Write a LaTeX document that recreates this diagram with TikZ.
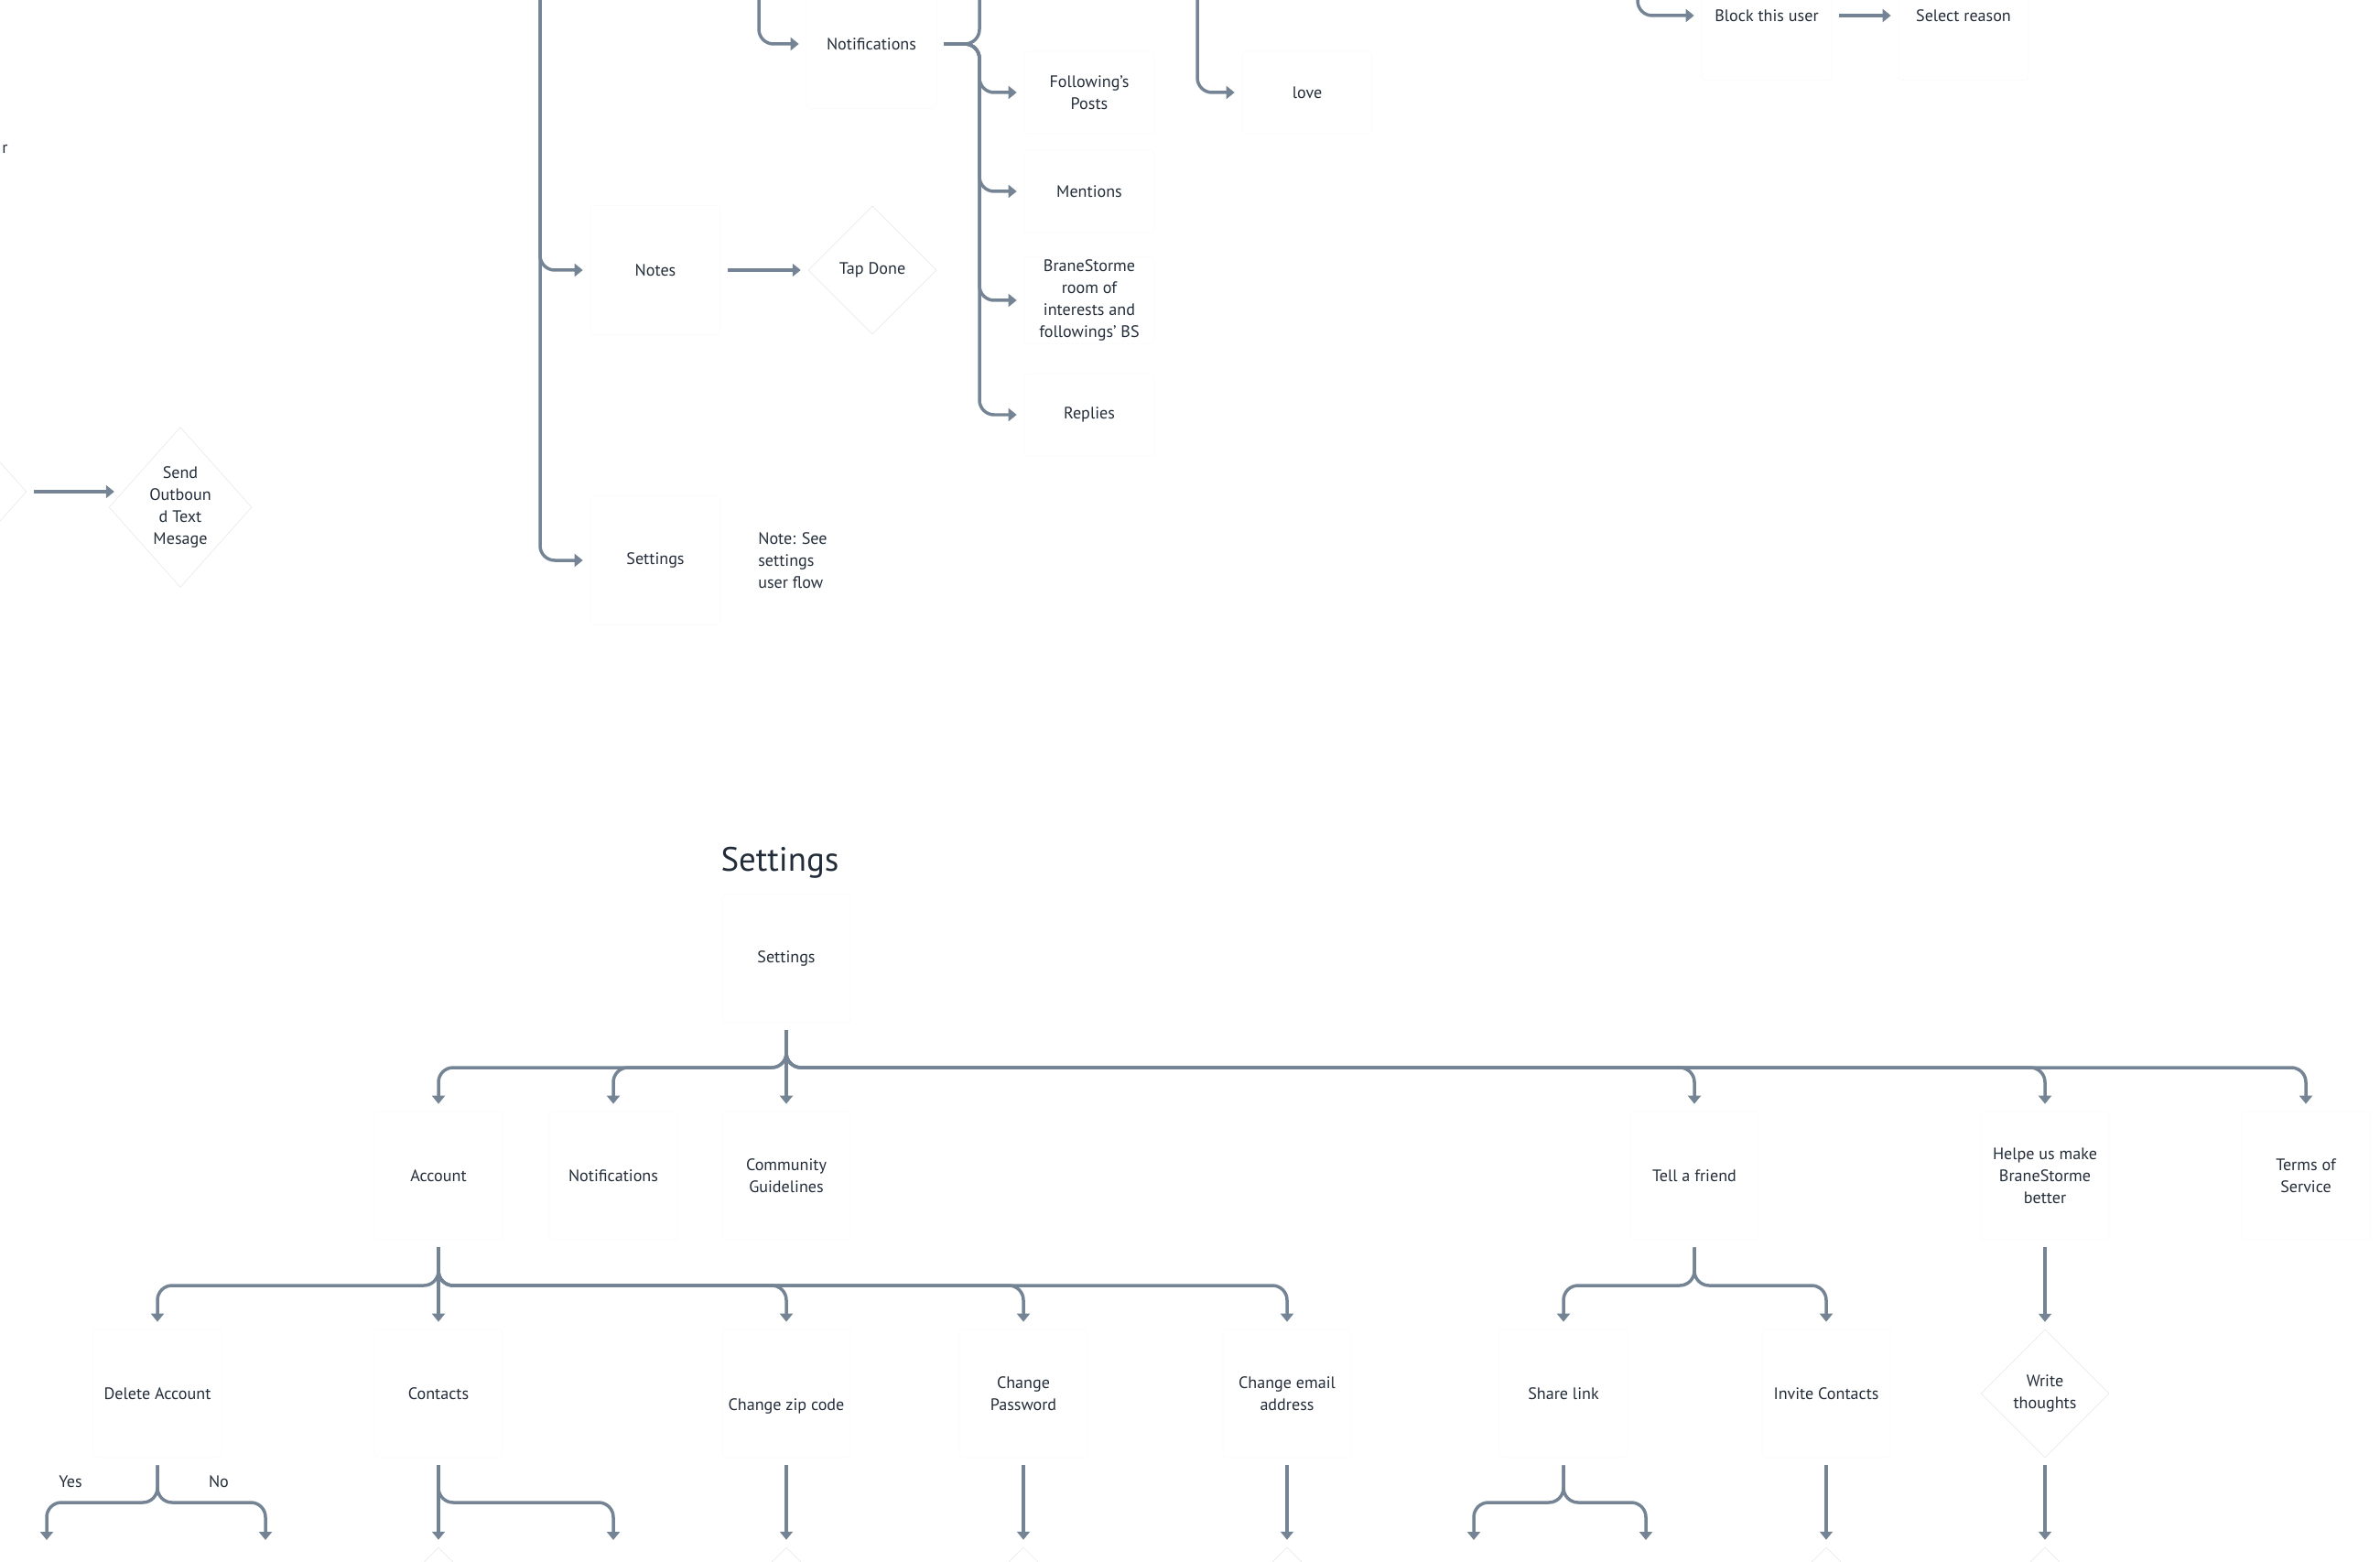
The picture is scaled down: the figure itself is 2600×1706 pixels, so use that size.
\documentclass[tikz,border=0pt]{standalone}
\usepackage{fontspec}
\setmainfont{PT Sans}
\usetikzlibrary{arrows.meta,positioning,shapes.geometric,calc}
\definecolor{slate}{RGB}{116,132,148}
\definecolor{ink}{RGB}{35,45,58}
\newcommand{\flowfont}{\fontsize{10.3}{13.6}\selectfont}

\tikzset{
  link/.style={draw=slate,line width=0.07cm,rounded corners=0.32cm,shorten <=0.16cm},
  flow/.style={link,-{Triangle[length=0.18cm,width=0.28cm]},shorten >=0.16cm},
  stepbox/.style={draw=black!2,rounded corners=2pt,minimum width=2.84cm,minimum height=2.82cm,
    align=center,font=\flowfont,text=ink,inner sep=2pt},
  subbox/.style={stepbox,minimum height=1.8cm},
  choice/.style={diamond,draw=black!10,line width=0.3pt,minimum width=2.8cm,minimum height=2.8cm,
    inner sep=0pt,align=center,font=\flowfont,text=ink},
  plain/.style={font=\flowfont,text=ink,align=center}
}

\begin{document}
\begin{tikzpicture}[x=0.02cm,y=-0.02cm]
\useasboundingbox (0,0) rectangle (2600,1706);
\clip (0,0) rectangle (2600,1706);

\node[plain,anchor=east,inner sep=0pt] (cutlabel) at (9,163) {r};
\node[choice,minimum height=3.1cm] (prevstep) at (-41,537) {};
\node[choice,minimum height=3.5cm] (sendtext) at (197,554) {Send\\Outboun\\d Text\\Mesage};
\draw[flow,shorten >=-0.12cm] (prevstep.east) -- (prevstep.east -| sendtext.west);

\coordinate (trunktop) at (590,-20);
\node[stepbox] (notes) at (716,295) {Notes};
\node[stepbox] (settingsstep) at (716,612) {Settings};
\node[plain,align=left,anchor=west,inner sep=0pt] (seenote) at (828,612) {Note: See\\settings\\user flow};
\node[choice] (tapdone) at (953,295) {Tap Done};
\draw[flow] (trunktop) |- (notes.west);
\draw[flow] (trunktop) |- (settingsstep.west);
\draw[flow] (notes) -- (tapdone);

\coordinate (notiftop) at (829,-20);
\node[stepbox] (notif) at (952,48) {Notifications};
\draw[flow] (notiftop) |- (notif.west);
\coordinate (feedtop) at (1070,-20);
\draw[link] (notif.east) -| (feedtop);
\foreach \n/\t/\y in {posts/{Following's\\Posts}/101,mentions/Mentions/209,
    brane/{BraneStorme\\room of\\interests and\\followings' BS}/328,replies/Replies/453}{
  \node[subbox] (\n) at (1190,\y) {\t};
  \draw[flow] (notif.east) -| (feedtop |- \n.west) -- (\n.west);
}

\coordinate (lovetop) at (1308,-20);
\node[subbox] (love) at (1428,101) {love};
\draw[flow] (lovetop) |- (love.west);

\coordinate (blocktop) at (1789,-20);
\node[stepbox] (block) at (1930,17) {Block this user};
\node[stepbox] (reason) at (2145,17) {Select reason};
\draw[flow] (blocktop) |- (block.west);
\draw[flow] (block) -- (reason);

\node[text=ink,font=\fontsize{21}{25}\selectfont] (title) at (852,942) {Settings};
\node[stepbox,minimum width=2.8cm,minimum height=2.8cm] (root) at (859,1047) {Settings};
\coordinate (hub) at (859,1166);
\foreach \n/\x/\t in {account/479/Account,notifset/670/Notifications,tell/1851/Tell a friend,
    helpe/2234/{Helpe us make\\BraneStorme\\better},terms/2519/{Terms of\\Service}}{
  \node[stepbox,minimum width=2.8cm,minimum height=2.8cm] (\n) at (\x,1284) {\t};
  \draw[flow] (root.south) -- (hub) -| (\n.north);
}
\node[stepbox,minimum width=2.8cm,minimum height=2.8cm] (guide) at (859,1284) {Community\\Guidelines};
\draw[flow] (root) -- (guide);

\coordinate (hubacct) at (479,1404);
\foreach \n/\x/\t in {delacct/172/Delete Account,zip/859/{\strut\\Change zip code},
    password/1118/{Change\\Password},email/1406/{Change email\\address}}{
  \node[stepbox,minimum width=2.8cm,minimum height=2.8cm] (\n) at (\x,1522) {\t};
  \draw[flow] (account.south) -- (hubacct) -| (\n.north);
}
\node[stepbox,minimum width=2.8cm,minimum height=2.8cm] (contacts) at (479,1522) {Contacts};
\draw[flow] (account) -- (contacts);

\coordinate (hubtell) at (1851,1404);
\foreach \n/\x/\t in {share/1708/Share link,invite/1995/Invite Contacts}{
  \node[stepbox,minimum width=2.8cm,minimum height=2.8cm] (\n) at (\x,1522) {\t};
  \draw[flow] (tell.south) -- (hubtell) -| (\n.north);
}
\node[choice] (write) at (2234,1522) {Write\\thoughts};
\draw[flow] (helpe) -- (write);

\coordinate (hubdel) at (172,1641);
\coordinate (yesend) at (51,1690);
\coordinate (noend) at (290,1690);
\draw[flow] (delacct.south) -- (hubdel) -| (yesend);
\draw[flow] (delacct.south) -- (hubdel) -| (noend);
\node[plain] (yes) at (77,1618) {Yes};
\node[plain] (no) at (239,1618) {No};

\coordinate (contactsend) at (670,1690);
\draw[flow] (contacts.south) -- (contacts.south |- hubdel) -| (contactsend);

\coordinate (hubshare) at (1708,1641);
\coordinate (shareleft) at (1610,1690);
\coordinate (shareright) at (1798,1690);
\draw[flow] (share.south) -- (hubshare) -| (shareleft);
\draw[flow] (share.south) -- (hubshare) -| (shareright);

\foreach \n/\x in {contacts/479,zip/859,password/1118,email/1406,invite/1995,write/2234}{
  \node[choice] (\n-next) at (\x,1760) {};
  \draw[flow] (\n) -- (\n-next);
}
\end{tikzpicture}
\end{document}
